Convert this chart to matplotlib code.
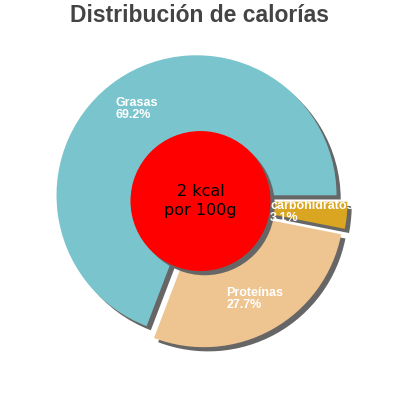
import numpy as np
import matplotlib
matplotlib.use("Agg")
import matplotlib.pyplot as plt
from matplotlib.patches import Circle

labels = ["Grasas", "Proteínas", "carbohidratos"]
values = [69.2, 27.7, 3.1]
colors = ["#7AC5CD", "#EEC591", "#DAA520"]
center_text = "2 kcal\npor 100g"
title = "Distribución de calorías"

fig = plt.figure(figsize=(4, 4), dpi=100)
ax = fig.add_axes([0, 0, 1, 1])

explode = [0.05] * len(values)
off = 0.03

# shadow first
ax.pie(values, colors=["#666666"] * 3, explode=explode, startangle=0,
       counterclock=True, radius=1, center=(off, -off), frame=True,
       wedgeprops=dict(linewidth=0))
wedges, _ = ax.pie(values, colors=colors, explode=explode, startangle=0,
                   counterclock=True, radius=1, center=(0, 0), frame=True,
                   wedgeprops=dict(linewidth=0))
ax.set_xlim(-1.432, 1.425)
ax.set_ylim(-1.421, 1.436)
ax.set_aspect("equal")
ax.axis("off")

for w, lab, v in zip(wedges, labels, values):
    ang = np.deg2rad((w.theta1 + w.theta2) / 2)
    cx, cy = w.center
    r = 0.75
    ax.text(cx + r * np.cos(ang), cy + r * np.sin(ang), f"{lab}\n{v}%",
            ha="center", va="center", multialignment="left",
            color="white", fontsize=9, fontweight="bold",
            family="Liberation Sans", linespacing=1.0)

ax.add_patch(Circle((off, -off), 0.5, color="#666666", lw=0))
ax.add_patch(Circle((0, 0), 0.5, color="#FF0000", lw=0))
ax.text(0, 0, center_text, ha="center", va="center", fontsize=11.5,
        color="black", family="DejaVu Sans", linespacing=1.3)

fig.text(0.5, 0.96, title, ha="center", va="center", fontsize=16.5,
         fontweight="bold", color="#444444", family="Liberation Sans")

fig.savefig("out.png", dpi=100)
